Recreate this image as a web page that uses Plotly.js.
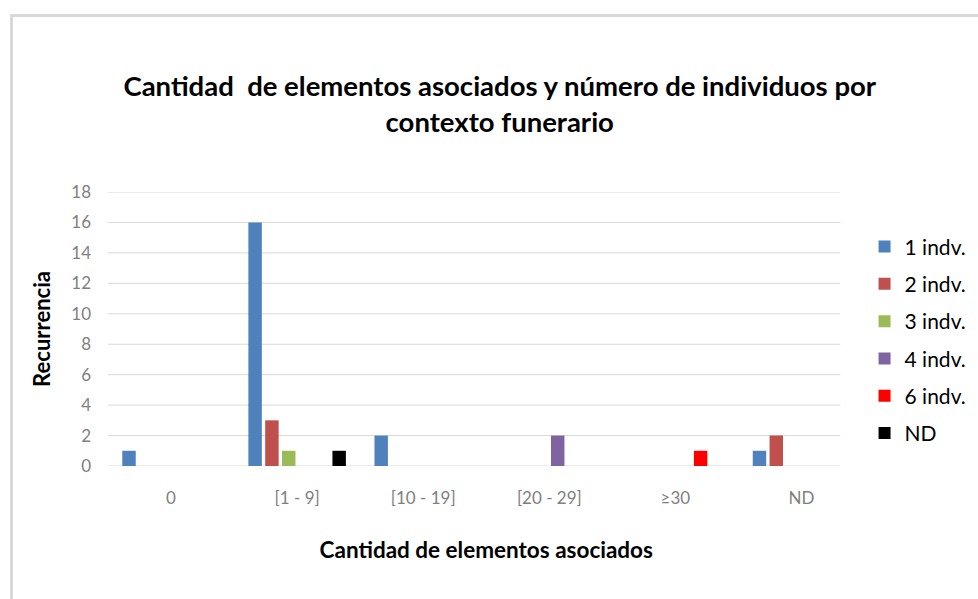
<!DOCTYPE html>
<html>
<head>
<meta charset="utf-8">
<script src="https://cdn.plot.ly/plotly-3.0.1.min.js"></script>
<style>
  html, body { margin: 0; padding: 0; background: #ffffff; }
  #frame { position: absolute; left: 10px; top: 14px; width: 968px; height: 585px;
           border-top: 3px solid #d9d9d9; border-left: 3px solid #d9d9d9; box-sizing: border-box; }
  #chart { position: absolute; left: 0; top: 0; width: 978px; height: 599px; }
</style>
</head>
<body>
<div id="frame"></div>
<div id="chart"></div>
<script>
// Categories on the x axis: number of associated grave goods
const categories = ['0', '[1 - 9]', '[10 - 19]', '[20 - 29]', '≥30', 'ND'];

// Series: number of individuals per funerary context
const seriesNames = ['1 indv.', '2 indv.', '3 indv.', '4 indv.', '6 indv.', 'ND'];
const indv1 = [1, 16, 2, 0, 0, 1];
const indv2 = [0, 3, 0, 0, 0, 2];
const indv3 = [0, 1, 0, 0, 0, 0];
const indv4 = [0, 0, 0, 2, 0, 0];
const indv6 = [0, 0, 0, 0, 1, 0];
const indvND = [0, 1, 0, 0, 0, 0];

const yTicks = [0, 2, 4, 6, 8, 10, 12, 14, 16, 18];

const seriesValues = [indv1, indv2, indv3, indv4, indv6, indvND];
const seriesColors = ['#4F81BD', '#C0504D', '#9BBB59', '#8064A2', '#FF0000', '#000000'];

const FONT = 'Lato, "Open Sans", sans-serif';

const traces = seriesNames.map((name, i) => ({
  type: 'bar',
  name: name,
  x: categories,
  y: seriesValues[i],
  legendgroup: 'g' + i,
  marker: { color: seriesColors[i] },
  hoverinfo: 'x+y+name'
}));

// Horizontal gridlines stop a little short of the last category slot
const gridShapes = yTicks.map(v => ({
  type: 'line', layer: 'below',
  xref: 'paper', x0: 0, x1: 0.968,
  yref: 'y', y0: v, y1: v,
  line: { color: '#d9d9d9', width: 1 }
}));

const layout = {
  width: 978,
  height: 599,
  paper_bgcolor: 'rgba(0,0,0,0)',
  plot_bgcolor: 'rgba(0,0,0,0)',
  margin: { l: 108, r: 112, t: 192, b: 133 },
  font: { family: FONT, color: '#595959' },
  title: {
    text: 'Cantidad  de elementos asociados y número de individuos por<br>contexto funerario',
    font: { family: FONT, size: 27.5, color: '#000000', weight: 'bold' },
    xref: 'container', x: 0.511, xanchor: 'center',
    yref: 'container', y: 0.84, yanchor: 'middle'
  },
  barmode: 'group',
  bargap: 0.2,
  bargroupgap: 0.2,
  shapes: gridShapes,
  xaxis: {
    type: 'category',
    showgrid: false,
    showline: false,
    zeroline: false,
    ticks: '',
    tickfont: { family: FONT, size: 17, color: '#7f7f7f' },
    ticklabelstandoff: 20,
    title: {
      text: '<b>Cantidad de elementos asociados</b>',
      font: { family: FONT, size: 22.5, color: '#000000' },
      standoff: 35
    }
  },
  yaxis: {
    range: [0, 18],
    tickvals: yTicks,
    ticktext: yTicks.map(String),
    showgrid: false,
    zeroline: false,
    showline: false,
    ticks: '',
    tickfont: { family: FONT, size: 17, color: '#7f7f7f' },
    ticklabelstandoff: 16,
    title: {
      text: '<b>Recurrencia</b>',
      font: { family: FONT, size: 22, color: '#000000' },
      standoff: 14
    }
  },
  legend: {
    xref: 'container', x: 0.884, xanchor: 'left',
    yref: 'container', y: 0.622, yanchor: 'top',
    traceorder: 'grouped',
    tracegroupgap: 7,
    font: { family: FONT, size: 21, color: '#000000' },
    itemwidth: 30,
    bgcolor: 'rgba(0,0,0,0)'
  },
  showlegend: true
};

Plotly.newPlot('chart', traces, layout, { displayModeBar: false, staticPlot: true });
</script>
</body>
</html>
